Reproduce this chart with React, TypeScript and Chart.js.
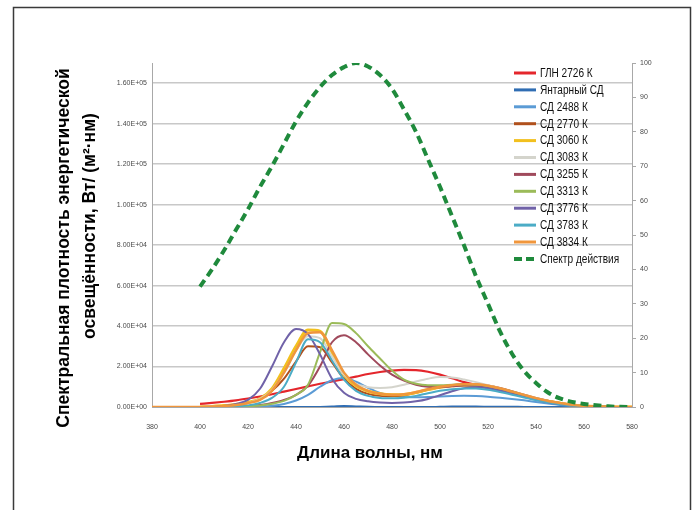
import React, { useEffect, useRef } from 'react';
import { Chart, registerables } from 'chart.js';

Chart.register(...registerables);

// ---------- DATA ----------
const wavelengths = [
  380, 385, 390, 395, 400, 405, 410, 415, 420, 425, 430, 435, 440, 445, 450, 455, 460, 465, 470, 475,
  480, 485, 490, 495, 500, 505, 510, 515, 520, 525, 530, 535, 540, 545, 550, 555, 560, 565, 570, 575, 580,
];

const gln2726 = [
  null, null, null, null, 1500, 2000, 2600, 3300, 4200, 5200, 6300, 7600, 8900, 10200, 11500, 12600, 13800, 15000, 16300, 17300,
  18000, 18300, 18200, 17400, 16000, 14200, 12300, 10900, 9800, 8600, 7200, 5700, 4200, 2900, 1800, 1000, 500, 200, 100, 0, 0,
];
const amber = [
  null, null, null, null, 0, 0, 0, 0, 0, 0, 0, 0, 0, 0, 50, 200, 500, 300, 100, 0,
  0, 0, 0, 0, 100, 200, 200, 200, 150, 100, 100, 50, 50, 0, 0, 0, 0, 0, 0, 0, 0,
];
const led2488 = [
  null, null, null, null, 0, 0, 0, 0, 100, 200, 600, 1500, 3200, 6000, 10000, 13200, 14300, 12500, 9500, 7000,
  5600, 5000, 4800, 4900, 5200, 5400, 5500, 5400, 5100, 4600, 4000, 3300, 2500, 1700, 1000, 500, 200, 100, 0, 0, 0,
];
const led2770 = [
  null, null, null, null, 0, 200, 500, 1000, 2000, 4000, 8000, 14000, 22500, 30000, 29500, 22000, 14000, 9000, 6500, 5500,
  5300, 5800, 7000, 8500, 9800, 10700, 11200, 11200, 10600, 9400, 7800, 6100, 4500, 3100, 2000, 1100, 500, 200, 100, 0, 0,
];
const led3060 = [
  null, null, null, null, 0, 300, 700, 1300, 2300, 4000, 9000, 19000, 30000, 38000, 37500, 27000, 16000, 10500, 7800, 6500,
  6000, 6200, 7200, 8600, 9800, 10500, 10800, 10600, 9800, 8500, 7000, 5400, 4000, 2800, 1800, 1000, 500, 200, 100, 0, 0,
];
const led3083 = [
  null, null, null, null, 0, 200, 500, 1000, 2000, 4000, 8500, 17000, 28000, 35000, 34000, 25000, 16000, 11500, 9800, 9400,
  9800, 11000, 12600, 14000, 14800, 14600, 13600, 12300, 10800, 9200, 7600, 6000, 4400, 3000, 1900, 1100, 500, 200, 100, 0, 0,
];
const led3255 = [
  null, null, null, null, 0, 0, 200, 300, 500, 1000, 2000, 3500, 6000, 10500, 20000, 32000, 35500, 32000, 26000, 20500,
  16000, 13000, 11000, 10000, 9800, 10200, 10600, 10500, 9800, 8600, 7200, 5600, 4100, 2800, 1700, 900, 400, 150, 50, 0, 0,
];
const led3313 = [
  null, null, null, null, 0, 0, 0, 100, 300, 800, 1600, 3000, 6000, 11000, 27000, 41500, 41000, 36500, 30000, 24000,
  18000, 13500, 11500, 10800, 10800, 11000, 11200, 11000, 10300, 9000, 7500, 5800, 4200, 2800, 1700, 900, 400, 150, 50, 0, 0,
];
const led3776 = [
  null, null, null, null, 0, 0, 500, 1500, 3500, 9000, 20000, 32000, 38500, 36000, 26000, 14000, 7000, 4000, 2800, 2200,
  2000, 2200, 2800, 4000, 5800, 7800, 9300, 9800, 9300, 8000, 6500, 5000, 3600, 2400, 1400, 700, 300, 100, 0, 0, 0,
];
const led3783 = [
  null, null, null, null, 0, 0, 100, 300, 800, 2000, 4500, 10000, 22000, 33500, 32000, 23000, 13500, 8000, 5500, 4500,
  4300, 4600, 5500, 6800, 8000, 8800, 9200, 9100, 8500, 7400, 6100, 4700, 3400, 2300, 1400, 700, 300, 100, 0, 0, 0,
];
const led3834 = [
  0, 0, 0, 0, 0, 200, 500, 1000, 2000, 3500, 8000, 17000, 28000, 36500, 37000, 28000, 17000, 11000, 8000, 6500,
  6000, 6300, 7400, 8800, 10000, 10800, 11200, 11200, 10500, 9200, 7600, 6000, 4400, 3000, 2000, 1100, 500, 200, 100, 0, 0,
];
const actionSpectrum = [
  null, null, null, null, 35, 40, 45.5, 51.5, 57.5, 64, 70, 76.5, 83, 88.5, 93, 96.5, 98.8, 100, 99, 96.5,
  92.5, 86.5, 80, 72, 64, 55.5, 47, 38, 30, 22, 15.5, 10.5, 7, 4.2, 2.5, 1.5, 0.9, 0.5, 0.2, 0.05, 0,
];

const seriesLabels = [
  'ГЛН 2726 К', 'Янтарный СД', 'СД 2488 К', 'СД 2770 К', 'СД 3060 К', 'СД 3083 К',
  'СД 3255 К', 'СД 3313 К', 'СД 3776 К', 'СД 3783 К', 'СД 3834 К', 'Спектр действия',
];

const leftTickValues = [0, 20000, 40000, 60000, 80000, 100000, 120000, 140000, 160000];
const rightTickValues = [0, 10, 20, 30, 40, 50, 60, 70, 80, 90, 100];
const xTickValues = [380, 400, 420, 440, 460, 480, 500, 520, 540, 560, 580];

const xTitle = 'Длина волны, нм';
const yTitleLines = ['Спектральная плотность энергетической', 'освещённости, Вт/ (м²·нм)'];

// ---------- HELPERS ----------
function sciLabel(v: number): string {
  const [m, e] = v.toExponential(2).split('e');
  const sign = e[0] === '-' ? '-' : '+';
  const digits = e.replace(/[+-]/, '').padStart(2, '0');
  return `${m}E${sign}${digits}`;
}

const SANS = "'Liberation Sans', Arial, sans-serif";

const decorPlugin = {
  id: 'decor',
  afterDraw(chart: any) {
    const { ctx, chartArea } = chart;
    ctx.save();
    // frame
    ctx.strokeStyle = '#3a3a3a';
    ctx.lineWidth = 1.5;
    ctx.strokeRect(13.5, 7.5, 677, 530);

    // y title (two rotated lines)
    ctx.fillStyle = '#000';
    ctx.font = `bold 17.5px ${SANS}`;
    ctx.textAlign = 'center';
    ctx.textBaseline = 'middle';
    const yPos = [
      [64, 248],
      [90, 226],
    ];
    yTitleLines.forEach((line, i) => {
      ctx.save();
      ctx.translate(yPos[i][0], yPos[i][1]);
      ctx.rotate(-Math.PI / 2);
      ctx.fillText(line, 0, 0);
      ctx.restore();
    });

    // x title
    ctx.font = `bold 17px ${SANS}`;
    ctx.fillText(xTitle, 370, 453);

    // legend
    const lx = chartArea.right - 118;
    const ly = chartArea.top + 10;
    const step = 16.9;
    ctx.textAlign = 'left';
    ctx.font = `12px ${SANS}`;
    chart.data.datasets.forEach((ds: any, i: number) => {
      const y = ly + i * step;
      const dashed = ds.borderDash && ds.borderDash.length;
      ctx.save();
      ctx.strokeStyle = ds.borderColor;
      ctx.lineWidth = dashed ? 4 : 3;
      ctx.setLineDash(dashed ? [8, 4] : []);
      ctx.beginPath();
      ctx.moveTo(lx, y);
      ctx.lineTo(lx + 22, y);
      ctx.stroke();
      ctx.restore();
      ctx.save();
      ctx.fillStyle = '#111';
      ctx.translate(lx + 26, y + 0.5);
      ctx.scale(0.84, 1);
      ctx.fillText(ds.label, 0, 0);
      ctx.restore();
    });
    ctx.restore();
  },
};

export default function App() {
  const ref = useRef<HTMLCanvasElement>(null);

  useEffect(() => {
    if (!ref.current) return;
    const specs = [
      { data: gln2726, color: '#e4262c', width: 2.2 },
      { data: amber, color: '#2f6db3', width: 2 },
      { data: led2488, color: '#5b9bd5', width: 2 },
      { data: led2770, color: '#b0501c', width: 2 },
      { data: led3060, color: '#f2c01e', width: 3 },
      { data: led3083, color: '#d4d4cc', width: 2 },
      { data: led3255, color: '#a04a5c', width: 2 },
      { data: led3313, color: '#9bbb59', width: 2 },
      { data: led3776, color: '#7062a8', width: 2 },
      { data: led3783, color: '#4bacc6', width: 2 },
      { data: led3834, color: '#f0963c', width: 2.5 },
      { data: actionSpectrum, color: '#1f8a3c', width: 4, dash: [8, 5], axis: 'y2' },
    ];
    const datasets = specs.map((s, i) => ({
      label: seriesLabels[i],
      data: s.data,
      borderColor: s.color,
      backgroundColor: s.color,
      borderWidth: s.width,
      borderDash: s.dash || [],
      borderCapStyle: 'butt',
      pointRadius: 0,
      fill: false,
      cubicInterpolationMode: 'monotone',
      yAxisID: s.axis || 'y',
      order: specs.length - i,
    }));

    const tickFont = { size: 7, family: SANS };
    const chart = new Chart(ref.current, {
      type: 'line',
      data: { labels: wavelengths, datasets: datasets as any },
      options: {
        animation: false,
        responsive: false,
        devicePixelRatio: 1,
        layout: { padding: { left: 0, top: 63, right: 0, bottom: 0 } },
        plugins: { legend: { display: false }, tooltip: { enabled: false } },
        scales: {
          x: {
            type: 'linear',
            min: 380,
            max: 580,
            afterFit: (s: any) => { s.height = 103; },
            afterBuildTicks: (s: any) => { s.ticks = xTickValues.map((value) => ({ value })); },
            ticks: { padding: 8, color: '#4a4a4a', font: tickFont, maxRotation: 0, autoSkip: false },
            grid: { display: false },
            border: { display: true, color: '#a8a8a8', width: 1 },
          },
          y: {
            position: 'left',
            min: 0,
            max: 170000,
            afterFit: (s: any) => { s.width = 152; },
            afterBuildTicks: (s: any) => { s.ticks = leftTickValues.map((value) => ({ value })); },
            ticks: {
              padding: 5,
              autoSkip: false,
              color: '#4a4a4a',
              font: tickFont,
              callback: (v: any) => sciLabel(Number(v)),
            },
            grid: { color: '#c8c8c8', lineWidth: 1.5, drawTicks: false },
            border: { display: true, color: '#a8a8a8', width: 1 },
          },
          y2: {
            position: 'right',
            min: 0,
            max: 100,
            afterFit: (s: any) => { s.width = 66; },
            afterBuildTicks: (s: any) => { s.ticks = rightTickValues.map((value) => ({ value })); },
            ticks: { padding: 4, autoSkip: false, color: '#4a4a4a', font: tickFont },
            grid: { drawOnChartArea: false, drawTicks: true, tickLength: 4, color: '#a8a8a8' },
            border: { display: true, color: '#a8a8a8', width: 1 },
          },
        },
      } as any,
      plugins: [decorPlugin],
    });
    return () => chart.destroy();
  }, []);

  return (
    <div style={{ position: 'fixed', left: 0, top: 0, width: 698, height: 510, background: '#fff' }}>
      <canvas ref={ref} width={698} height={510} style={{ display: 'block' }} />
    </div>
  );
}
